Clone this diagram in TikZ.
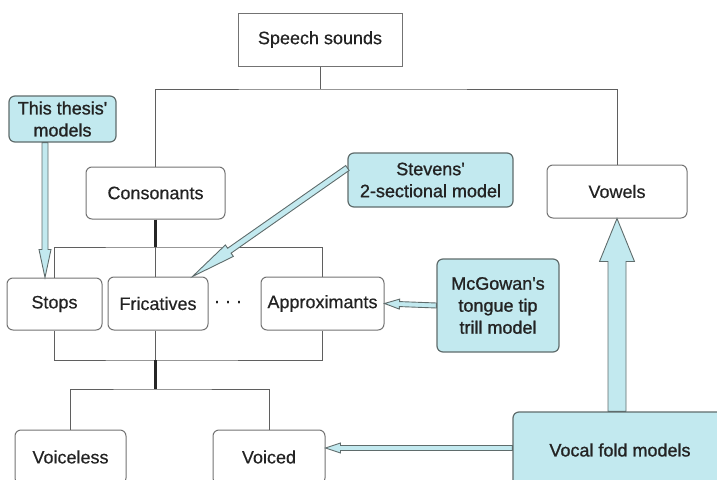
\documentclass[tikz,border=0pt]{standalone}
\usepackage{fontspec}
\setmainfont{Liberation Sans}
\newfontfamily\plainfont{Liberation Sans}[FakeBold=0.4]
\newfontfamily\modelfont{Liberation Sans}[FakeBold=1.1]
\usetikzlibrary{calc}
\definecolor{modelfill}{RGB}{194,233,239}
\definecolor{modeledge}{RGB}{95,108,108}
\definecolor{boxedge}{RGB}{115,115,115}
\definecolor{txt}{RGB}{35,35,35}
\definecolor{treeline}{RGB}{95,95,95}
\tikzset{
  base/.style={draw=boxedge, line width=1pt, rounded corners=6pt, fill=white,
    text=txt, align=center, inner sep=0pt,
    font=\plainfont\fontsize{18}{22}\selectfont},
  plainbox/.style={base},
  squarebox/.style={base, rounded corners=0pt},
  modelbox/.style={base, draw=modeledge, line width=1.2pt, fill=modelfill,
    font=\modelfont\fontsize{18}{22}\selectfont},
  tree/.style={draw=treeline, line width=1pt},
  trunk/.style={draw=black!85, line width=2.6pt},
  arrowfill/.style={draw=modeledge, line width=0.9pt, fill=modelfill, line join=miter},
}
% #1 tail, #2 tip, #3 shaft half width, #4 head half width, #5 head length
\newcommand\mdlarrow[5]{%
  \coordinate (mdlH) at ($(#2)!#5pt!(#1)$);
  \path[arrowfill] ($(#1)!#3pt!90:(#2)$) -- ($(mdlH)!#3pt!90:(#2)$)
    -- ($(mdlH)!#4pt!90:(#2)$) -- (#2) -- ($(mdlH)!#4pt!-90:(#2)$)
    -- ($(mdlH)!#3pt!-90:(#2)$) -- ($(#1)!#3pt!-90:(#2)$) -- cycle;
}
\begin{document}
\begin{tikzpicture}[x=1pt,y=-1pt]
\useasboundingbox (0,0) rectangle (717,479);
\clip (0,0) rectangle (717,479);
% nodes
\node[squarebox, minimum width=164pt, minimum height=53pt] (speech) at (320,39.5) {Speech sounds};
\node[plainbox, minimum width=139pt, minimum height=52pt] (cons) at (155.5,193) {Consonants};
\node[plainbox, minimum width=140pt, minimum height=53pt] (vow) at (617,191.5) {Vowels};
\node[modelbox, minimum width=107pt, minimum height=46pt] (thesis) at (62.5,119) {This thesis\textquotesingle\\models};
\node[modelbox, minimum width=165pt, minimum height=54pt] (stevens) at (430.5,180) {Stevens\textquotesingle\\2-sectional model};
\node[plainbox, minimum width=95pt, minimum height=52pt] (stops) at (54.5,304) {Stops};
\node[plainbox, minimum width=100pt, minimum height=53pt] (fric) at (158,303.5) {Fricatives};
\node[text=txt, font=\modelfont\fontsize{18}{22}\selectfont, inner sep=0pt] (dots) at (228,304) {· · ·};
\node[plainbox, minimum width=123pt, minimum height=53pt] (approx) at (322.5,303.5) {Approximants};
\node[modelbox, minimum width=122pt, minimum height=93pt] (mcg) at (498,305.5) {McGowan\textquotesingle s\\tongue tip\\trill model};
\node[modelbox, minimum width=214pt, minimum height=76pt] (vf) at (620,450) {Vocal fold models};
\node[plainbox, minimum width=111pt, minimum height=54pt] (voiceless) at (70.5,457) {Voiceless};
\node[plainbox, minimum width=112pt, minimum height=54pt] (voiced) at (269,457) {Voiced};
% tree
\coordinate (hub1) at (320,89);
\coordinate (b1) at (155.5,247);
\coordinate (b2) at (155.5,360);
\coordinate (b3) at (155.5,389);
\draw[tree] (speech.south) -- (hub1);
\draw[tree] (cons.north) |- (hub1) -| (vow.north);
\draw[trunk] (cons.south) -- (b1);
\draw[tree] (stops.north) |- (b1) -| (approx.north);
\draw[tree] (b1) -- (fric.north -| b1);
\draw[tree] (stops.south) |- (b2) -| (approx.south);
\draw[tree] (fric.south -| b2) -- (b2);
\draw[trunk] (b2) -- (b3);
\draw[tree] (voiceless.north) |- (b3) -| (voiced.north);
% model arrows
\coordinate (ta) at ([xshift=-17.5pt]thesis.south);
\coordinate (tb) at (ta |- stops.north);
\mdlarrow{ta}{tb}{3}{6}{28}
\coordinate (sa) at ([yshift=12pt]stevens.west);
\coordinate (sb) at ([xshift=-16pt]fric.north east);
\mdlarrow{sa}{sb}{3}{7}{45}
\coordinate (ma) at (mcg.west);
\coordinate (mb) at (approx.east);
\mdlarrow{ma}{mb}{2.5}{5}{15}
\coordinate (va) at ([xshift=-3pt]vf.north);
\coordinate (vb) at (vow.south);
\mdlarrow{va}{vb}{9}{17.5}{43}
\coordinate (da) at ([yshift=2pt]vf.west);
\coordinate (db) at (da -| voiced.east);
\mdlarrow{da}{db}{2.5}{5}{15}
\end{tikzpicture}
\end{document}
